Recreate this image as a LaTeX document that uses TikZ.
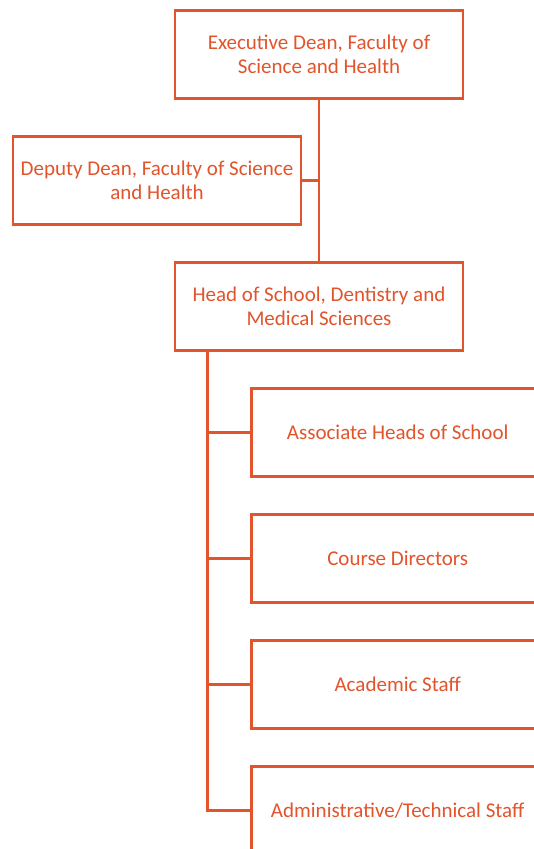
\documentclass[tikz,border=0pt]{standalone}
\usepackage{fontspec}
\setmainfont{Carlito}
\definecolor{org}{RGB}{226,84,44}
\begin{document}
\begin{tikzpicture}[x=1pt,y=1pt,
  box/.style={draw=org, line width=2.8pt, text=org, minimum width=288pt, minimum height=88pt,
    align=center, inner sep=0pt, font=\fontsize{21}{23.5}\selectfont},
  cbox/.style={box, minimum width=292pt},
  link/.style={draw=org, line width=2.8pt}]
\useasboundingbox[fill=white] (0,0) rectangle (533,-849);
\node[box] (exec) at (319,-54.5) {Executive Dean, Faculty of\\Science and Health};
\node[box] (dep) at (157,-180.5) {Deputy Dean, Faculty of Science\\and Health};
\node[box] (head) at (319,-306.5) {Head of School, Dentistry and\\Medical Sciences};
\node[cbox] (c1) at (397.7,-432.5) {Associate Heads of School};
\node[cbox] (c2) at (397.7,-558.5) {Course Directors};
\node[cbox] (c3) at (397.7,-684.5) {Academic Staff};
\node[cbox] (c4) at (397.7,-810.5) {Administrative/Technical Staff};
\draw[link] (exec.south) -- (head.north);
\draw[link] (dep.east) -- (dep.east -| exec.south);
\coordinate (trunk) at ([xshift=-111.5pt]head.south);
\draw[link] (trunk) |- (c4.west);
\foreach \c in {c1,c2,c3} \draw[link] (\c.west) -- (\c.west -| trunk);
\end{tikzpicture}
\end{document}
